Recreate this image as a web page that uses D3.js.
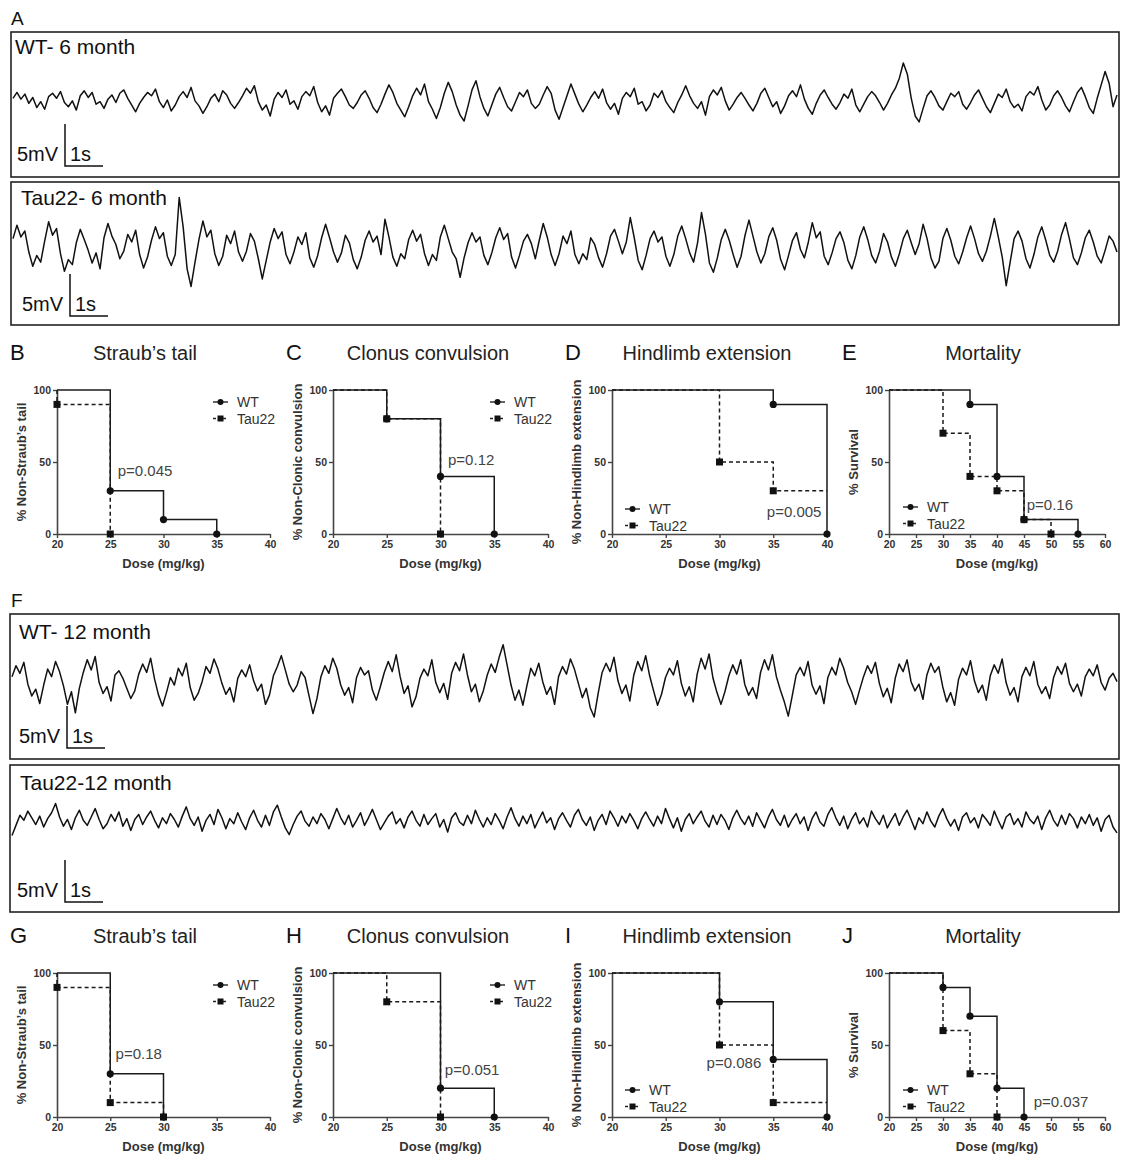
<!DOCTYPE html>
<html>
<head>
<meta charset="utf-8">
<script src="https://cdnjs.cloudflare.com/ajax/libs/d3/7.8.5/d3.min.js"></script>
<style>
body { margin: 0; background: #fff; }
svg { display: block; }
text { font-family: "Liberation Sans", Arial, sans-serif; }
</style>
</head>
<body>
<svg id="fig" width="1123" height="1155"></svg>
<script>
// EEG traces in mV, one value every ~4 px
var wt6 = [0.2,0.9,0.1,0.7,-0.4,0.3,-0.9,-0.2,-1.1,0.4,0.8,0.2,1.0,-0.3,-0.8,-0.1,-1.2,0.5,1.1,0.3,
  0.9,-0.5,-0.2,-1.0,0.1,0.6,-0.3,0.8,1.2,0.2,-0.6,-1.4,-0.4,0.3,0.9,0.5,1.3,-0.2,-0.9,0.0,
  -1.3,-0.6,0.4,1.0,0.3,1.5,-0.1,-0.7,-1.6,-0.8,0.2,0.7,-0.2,1.1,0.6,-0.4,-1.0,-0.3,0.5,1.4,
  0.8,1.7,-0.2,-1.2,-0.6,-1.9,0.1,0.9,0.3,1.2,-0.5,-0.1,-1.1,0.4,1.0,0.5,1.6,-0.3,-1.4,-0.7,
  -1.8,0.2,0.8,1.3,0.4,-0.6,-1.0,-0.3,0.6,1.1,0.2,-0.9,-1.5,-0.5,0.7,1.8,0.9,-0.4,-1.2,-2.0,
  -0.8,0.5,1.4,0.6,1.9,-0.2,-1.1,-2.2,-0.9,0.8,2.1,1.0,-0.6,-1.8,-2.5,-0.7,1.2,2.3,0.4,-1.0,
  -1.9,-0.6,0.7,1.5,0.3,-0.8,-1.3,-0.2,0.9,0.4,1.2,-0.4,-1.0,-0.5,0.6,1.6,0.8,-1.2,-2.3,-0.9,
  0.5,1.9,0.7,-0.5,-1.4,-0.6,0.3,1.0,0.2,1.3,-0.3,-1.1,-0.4,-1.7,0.2,0.9,0.4,1.4,-0.5,-0.2,
  -1.3,-0.6,0.8,0.3,1.1,-0.2,-0.9,-1.5,-0.3,0.6,1.7,0.5,-0.4,-1.0,-0.2,-1.8,0.4,1.2,0.6,1.5,
  -0.1,-1.2,-0.5,0.3,0.9,0.2,-0.6,-1.3,-0.4,0.8,1.4,0.3,-0.8,-0.2,-1.6,-0.7,0.5,1.1,0.4,1.8,
  0.1,-1.0,-1.7,-0.4,0.6,1.2,0.3,-0.5,-1.1,-0.3,0.7,0.2,1.3,-0.6,-1.4,-0.5,0.4,1.0,0.5,-0.3,
  -1.2,-0.4,0.6,1.4,2.6,4.4,3.1,0.2,-1.9,-2.6,-1.0,0.5,1.1,0.3,-0.7,-1.2,-0.2,0.8,0.4,1.0,
  -0.5,-1.1,-0.3,0.6,1.2,0.2,-0.8,-1.5,-0.4,0.7,0.3,1.3,-0.2,-0.9,-0.5,-1.3,0.4,1.0,0.6,1.6,
  0.0,-1.2,-0.6,0.5,1.1,0.3,-0.7,-1.4,-0.2,0.9,1.5,0.4,-0.9,-1.6,0.2,1.8,3.4,2.0,-0.8,0.6];

var tau6 = [1.0,2.6,1.2,1.9,-0.6,-2.3,-1.0,-1.8,0.7,3.0,1.4,2.2,-0.8,-2.9,-1.5,-2.1,0.5,2.1,0.9,-0.4,
  -1.9,-0.7,-2.6,1.1,2.8,1.3,0.3,-1.4,-0.5,1.5,0.6,2.0,-0.9,-2.5,-1.2,0.8,2.4,1.0,1.7,-1.1,
  -2.2,-0.9,5.9,2.4,-2.6,-4.7,-1.8,0.9,3.1,1.2,2.0,-0.8,-2.2,-1.1,1.4,0.4,1.9,-0.6,-1.7,-0.5,
  1.6,0.7,-1.4,-3.8,-1.6,0.6,2.2,1.0,1.8,-0.9,-2.0,-0.6,1.2,0.3,1.7,-1.3,-2.4,-1.0,1.1,2.7,
  1.1,-0.6,-1.8,-0.7,1.4,0.5,-1.5,-2.6,-1.2,0.8,1.9,0.6,1.3,-0.9,3.3,1.2,-1.2,-2.3,-0.8,-1.4,
  0.9,2.0,0.7,1.5,-0.8,-2.2,-0.9,-1.6,1.2,2.6,1.0,-0.6,-1.4,-3.6,-1.3,0.5,1.7,0.6,1.2,-1.0,
  -2.1,-0.7,1.1,2.3,0.9,1.6,-1.2,-2.5,-1.0,0.7,1.5,0.4,-1.4,0.8,2.8,1.2,-0.9,-2.2,-0.8,1.3,
  0.4,1.9,-0.9,-2.0,-0.8,-1.5,1.1,0.3,-1.3,-2.4,-0.8,1.3,2.1,0.7,-0.8,0.6,3.5,1.1,-1.6,-2.7,
  -1.0,1.0,1.9,0.6,1.2,-1.1,-2.3,-0.9,1.3,2.5,1.0,-0.7,-1.8,0.5,4.1,1.5,-1.9,-3.0,-1.3,0.9,
  2.1,0.8,-0.9,-2.4,-1.1,1.4,3.2,1.3,-0.6,-1.9,-0.8,1.2,2.3,0.8,-1.5,-2.7,-1.0,0.8,1.7,-0.3,
  -1.3,0.6,2.9,1.1,1.8,-1.1,-2.1,-0.7,1.0,1.8,0.5,-1.6,-2.6,-1.0,1.2,2.4,0.9,-1.0,-1.9,-0.5,
  1.6,0.6,-1.2,-2.3,-0.8,1.0,2.0,0.5,-0.9,0.4,2.7,1.0,-1.3,-2.5,-1.7,1.0,2.2,0.8,-1.1,-2.0,
  -0.6,1.1,2.5,1.0,-0.8,-1.7,-0.5,1.3,3.4,1.2,-1.2,-4.6,-1.8,1.0,1.9,0.7,-1.4,-2.5,-0.9,1.2,
  2.4,0.8,-1.0,-1.8,-0.5,1.5,2.9,0.9,-1.3,-2.1,-0.7,1.1,2.0,0.6,-1.1,-1.9,-0.4,1.3,0.7,-0.6];

var wt12 = [0.4,1.7,0.8,2.1,-0.5,-1.9,-1.1,-2.8,-0.6,1.3,0.4,2.2,1.0,-0.7,-2.9,-1.4,-3.9,-1.0,0.9,2.4,
  1.2,2.8,-0.3,-1.6,-0.8,-2.5,0.6,1.1,0.2,-1.0,-2.2,-1.3,0.7,1.9,0.9,2.6,0.1,-1.8,-3.1,-1.5,
  0.3,-0.6,1.4,0.5,2.0,-0.9,-2.4,-1.6,-0.2,1.6,0.8,2.5,1.3,-0.4,-1.7,-0.9,-2.6,0.2,1.2,0.4,
  1.8,-0.1,-1.3,-0.5,-2.9,-1.8,0.5,1.6,2.9,1.2,-0.5,-1.4,-0.6,1.0,0.3,-1.9,-4.0,-2.2,0.4,1.7,
  0.8,2.6,1.4,-0.6,-1.8,-0.9,-2.7,0.3,1.5,0.6,1.1,-1.2,-2.4,-0.8,0.9,2.2,1.0,3.0,0.4,-1.6,
  -0.7,-3.2,-2.0,0.2,1.3,0.5,2.4,-0.3,-1.5,-0.4,-2.3,0.8,2.1,1.1,3.1,0.6,-1.4,-0.5,-2.6,-1.3,
  0.6,1.9,0.9,2.7,4.2,1.8,-0.6,-2.4,-1.2,-3.0,-0.7,1.4,0.5,2.0,-0.2,-1.7,-0.8,-2.9,0.4,1.6,
  0.7,2.5,1.3,-0.4,-2.1,-1.0,-3.3,-4.4,-1.6,0.9,2.0,1.0,2.7,-0.1,-1.6,-0.6,-2.5,0.6,2.2,1.1,
  2.9,0.5,-1.3,-3.0,-1.7,0.3,1.4,0.6,2.3,-0.4,-1.9,-0.8,-2.6,0.7,2.6,1.3,3.1,0.2,-1.5,-2.9,
  -1.4,0.5,1.8,0.7,2.4,-0.5,-1.8,-0.9,-2.2,0.9,2.4,1.2,3.0,0.4,-1.2,-2.6,-4.3,-1.9,0.6,1.5,
  0.5,2.2,-0.6,-1.7,-0.7,-2.8,0.3,1.5,0.6,2.6,1.4,-0.3,-1.4,-2.9,-1.2,0.4,1.7,0.8,2.1,-0.4,
  -2.0,-1.0,-2.7,0.2,1.9,1.0,2.4,-0.2,-1.3,-0.5,-2.3,0.6,2.0,0.9,1.6,-0.8,-2.6,-1.5,-3.0,0.1,
  1.4,0.6,2.3,-0.1,-1.5,-0.6,-2.4,0.5,1.8,0.8,2.5,-0.3,-1.8,-0.9,-2.6,0.4,1.5,0.5,2.2,-0.5,
  -1.6,-0.8,-2.2,0.3,1.6,0.7,2.0,-0.4,-1.4,-0.5,-1.9,0.4,1.3,0.5,1.8,-0.3,-1.2,0.2,0.8,-0.2];

var tau12 = [-1.6,-0.4,0.8,0.2,1.3,0.5,-0.3,0.7,-0.6,0.4,1.1,2.2,0.6,-0.5,0.3,-0.9,0.5,1.4,0.2,-0.4,
  0.6,1.6,0.3,-0.8,-0.2,0.9,0.1,1.2,-0.5,0.4,-1.0,0.3,0.9,-0.3,0.6,1.3,0.2,-0.7,0.5,-0.2,
  1.0,0.3,-0.6,0.7,1.8,0.4,-0.4,0.6,-1.1,0.2,0.9,-0.3,1.5,0.5,-0.8,0.4,-0.2,1.1,0.0,-0.9,
  0.5,1.4,0.2,-0.6,0.8,-0.4,1.2,2.0,0.6,-0.7,-1.5,-0.3,0.7,1.3,0.1,-0.5,0.6,-0.2,1.0,0.3,
  -0.8,0.4,1.6,0.5,-0.3,0.8,-0.6,0.2,1.1,-0.4,0.5,1.5,0.3,-0.9,-0.1,0.7,1.2,-0.2,0.4,-0.7,
  0.6,1.3,0.2,-0.5,0.9,-0.3,0.4,1.0,-0.6,0.3,-1.2,0.5,1.1,0.0,-0.4,0.8,-0.2,1.4,0.3,-0.6,
  0.5,-0.3,1.0,0.2,-0.8,0.6,1.7,0.4,-0.5,0.7,-0.2,0.9,-0.7,0.3,1.2,-0.1,0.5,-0.9,0.4,1.1,
  0.2,-0.6,0.8,1.5,0.3,-0.4,0.6,-1.0,0.2,0.9,-0.3,1.3,0.5,-0.5,0.7,-0.1,1.0,0.2,-0.8,0.4,
  1.2,0.3,-0.5,0.7,-0.2,1.6,0.4,-0.7,0.5,-1.1,0.3,1.0,-0.2,0.6,1.3,0.1,-0.6,0.8,-0.3,0.9,
  0.2,-0.9,0.5,1.4,0.4,-0.3,0.7,-0.5,1.1,0.2,-0.7,0.6,1.5,0.3,-0.4,0.8,-0.6,0.3,1.0,-0.2,
  0.6,-1.0,0.4,1.2,0.0,-0.5,0.9,1.7,0.5,-0.4,0.7,-0.8,0.3,1.1,-0.2,0.5,-0.6,1.3,0.4,-0.3,
  0.8,-0.7,0.2,1.0,-0.4,0.6,1.4,0.3,-0.9,0.5,-0.2,1.2,0.1,-0.6,0.7,1.6,0.4,-0.5,0.3,-1.0,
  0.6,1.1,-0.1,0.5,-0.7,0.9,0.3,-0.4,1.3,0.2,-0.8,0.6,1.0,-0.3,0.4,-0.6,1.2,0.3,-0.2,0.7,
  -0.9,0.5,1.4,0.2,-0.5,0.8,-0.3,1.0,0.4,-0.7,0.6,-0.2,0.9,-0.4,0.5,-1.1,0.3,0.8,-0.6,-1.3];

// survival curves: dose (mg/kg) and % remaining after each step
var doseTicks = [20, 25, 30, 35, 40];
var doseTicksMort = [20, 25, 30, 35, 40, 45, 50, 55, 60];
var pctTicks = [0, 50, 100];

var straub6WtDose = [20, 25, 30, 35],       straub6WtPct = [100, 30, 10, 0];
var straub6TauDose = [20, 20, 25],          straub6TauPct = [100, 90, 0];
var clonus6WtDose = [20, 25, 30, 35],       clonus6WtPct = [100, 80, 40, 0];
var clonus6TauDose = [20, 25, 30],          clonus6TauPct = [100, 80, 0];
var hind6WtDose = [20, 35, 40],             hind6WtPct = [100, 90, 0];
var hind6TauDose = [20, 30, 35, 40],        hind6TauPct = [100, 50, 30, 30];
var mort6WtDose = [20, 35, 40, 45, 55],     mort6WtPct = [100, 90, 40, 10, 0];
var mort6TauDose = [20, 30, 35, 40, 45, 50], mort6TauPct = [100, 70, 40, 30, 10, 0];

var straub12WtDose = [20, 25, 30],          straub12WtPct = [100, 30, 0];
var straub12TauDose = [20, 20, 25, 30],     straub12TauPct = [100, 90, 10, 0];
var clonus12WtDose = [20, 30, 35],          clonus12WtPct = [100, 20, 0];
var clonus12TauDose = [20, 25, 30],         clonus12TauPct = [100, 80, 0];
var hind12WtDose = [20, 30, 35, 40],        hind12WtPct = [100, 80, 40, 0];
var hind12TauDose = [20, 30, 35, 40],       hind12TauPct = [100, 50, 10, 10];
var mort12WtDose = [20, 30, 35, 40, 45],    mort12WtPct = [100, 90, 70, 20, 0];
var mort12TauDose = [20, 30, 35, 40],       mort12TauPct = [100, 60, 30, 0];

var svg = d3.select("#fig");

// ---------- EEG boxes ----------
function eegBox(o) {
  var g = svg.append("g");
  g.append("rect").attr("x", o.x0).attr("y", o.y0)
    .attr("width", o.x1 - o.x0).attr("height", o.y1 - o.y0)
    .attr("fill", "none").attr("stroke", "#222").attr("stroke-width", 1.6);
  g.append("text").attr("x", o.tx).attr("y", o.ty).attr("font-size", 21).attr("fill", "#111").text(o.title);

  var x = d3.scaleLinear().domain([0, o.data.length - 1]).range([o.x0 + 2, o.x1 - 2]);
  var y = d3.scaleLinear().domain([-6, 6]).range([o.mid + 50.4, o.mid - 50.4]);
  g.append("path").datum(o.data)
    .attr("d", d3.line().x(function (d, i) { return x(i); }).y(function (d) { return y(d); }))
    .attr("fill", "none").attr("stroke", "#111").attr("stroke-width", 1.5).attr("stroke-linejoin", "round");

  // 5 mV / 1 s scale bar
  var barH = y(0) - y(5);
  g.append("path")
    .attr("d", "M" + o.bx + "," + (o.by - barH) + "V" + o.by + "H" + (o.bx + 38))
    .attr("fill", "none").attr("stroke", "#111").attr("stroke-width", 1.5);
  g.append("text").attr("x", o.bx - 48).attr("y", o.by - 5).attr("font-size", 20).attr("fill", "#111").text("5mV");
  g.append("text").attr("x", o.bx + 5).attr("y", o.by - 5).attr("font-size", 20).attr("fill", "#111").text("1s");
}

svg.append("text").attr("x", 11).attr("y", 25).attr("font-size", 19).attr("fill", "#111").text("A");
svg.append("text").attr("x", 11).attr("y", 607).attr("font-size", 19).attr("fill", "#111").text("F");

eegBox({ x0: 11, x1: 1119, y0: 32, y1: 177, mid: 100, data: wt6, title: "WT- 6 month", tx: 15, ty: 54, bx: 65, by: 166 });
eegBox({ x0: 11, x1: 1119, y0: 182, y1: 325, mid: 247, data: tau6, title: "Tau22- 6 month", tx: 21, ty: 205, bx: 70, by: 316 });
eegBox({ x0: 10, x1: 1119, y0: 614, y1: 759, mid: 680, data: wt12, title: "WT- 12 month", tx: 19, ty: 639, bx: 67, by: 748 });
eegBox({ x0: 10, x1: 1119, y0: 765, y1: 912, mid: 822, data: tau12, title: "Tau22-12 month", tx: 20, ty: 790, bx: 65, by: 902 });

// ---------- survival panels ----------
function survPanel(o) {
  var g = svg.append("g");
  var x = d3.scaleLinear().domain([20, o.ticks[o.ticks.length - 1]]).range([o.x0, o.x1]);
  var y = d3.scaleLinear().domain([0, 100]).range([o.yb, o.yt]);

  g.append("text").attr("x", o.x0 - 47).attr("y", o.yt - 30).attr("font-size", 22).attr("fill", "#111").text(o.letter);
  g.append("text").attr("x", o.tcx).attr("y", o.yt - 30).attr("text-anchor", "middle")
    .attr("font-size", 20).attr("fill", "#222").text(o.title);

  var xa = g.append("g").attr("transform", "translate(0," + o.yb + ")")
    .call(d3.axisBottom(x).tickValues(o.ticks).tickSize(4).tickSizeOuter(0).tickPadding(3));
  var ya = g.append("g").attr("transform", "translate(" + o.x0 + ",0)")
    .call(d3.axisLeft(y).tickValues(pctTicks).tickSize(4).tickSizeOuter(0).tickPadding(2));
  [xa, ya].forEach(function (a) {
    a.select(".domain").attr("stroke", "#444").attr("stroke-width", 1.6);
    a.selectAll(".tick line").attr("stroke", "#444").attr("stroke-width", 1.4);
    a.selectAll(".tick text").attr("font-size", 10.5).attr("font-weight", "bold").attr("fill", "#333")
      .attr("font-family", "Liberation Sans, Arial, sans-serif");
  });

  g.append("text").attr("x", (o.x0 + o.x1) / 2).attr("y", o.yb + 34).attr("text-anchor", "middle")
    .attr("font-size", 13).attr("font-weight", "bold").attr("fill", "#333").text("Dose (mg/kg)");
  g.append("text").attr("transform", "translate(" + (o.x0 - 31) + "," + ((o.yt + o.yb) / 2) + ") rotate(-90)")
    .attr("text-anchor", "middle").attr("font-size", 13).attr("font-weight", "bold").attr("fill", "#333").text(o.ylab);

  var line = d3.line().x(function (d) { return x(d[0]); }).y(function (d) { return y(d[1]); }).curve(d3.curveStepAfter);
  var series = [
    { pts: d3.zip(o.tauDose, o.tauPct), dash: "4,3", shape: "square" },
    { pts: d3.zip(o.wtDose, o.wtPct), dash: null, shape: "circle" }
  ];
  series.forEach(function (s) {
    g.append("path").datum(s.pts).attr("d", line)
      .attr("fill", "none").attr("stroke", "#1a1a1a").attr("stroke-width", 1.5)
      .attr("stroke-dasharray", s.dash);
  });
  series.forEach(function (s) {
    var ev = s.pts.filter(function (d, i) { return i > 0 && d[1] !== s.pts[i - 1][1]; });
    if (s.shape === "circle") {
      g.selectAll(null).data(ev).enter().append("circle")
        .attr("cx", function (d) { return x(d[0]); }).attr("cy", function (d) { return y(d[1]); })
        .attr("r", 3.6).attr("fill", "#111");
    } else {
      g.selectAll(null).data(ev).enter().append("rect")
        .attr("x", function (d) { return x(d[0]) - 3.5; }).attr("y", function (d) { return y(d[1]) - 3.5; })
        .attr("width", 7).attr("height", 7).attr("fill", "#111");
    }
  });

  // legend
  var lx = o.lx, ly = o.ly;
  [["WT", null, "circle"], ["Tau22", "3,2", "square"]].forEach(function (L, i) {
    var yy = ly + i * 16.5;
    g.append("line").attr("x1", lx).attr("x2", lx + 15).attr("y1", yy).attr("y2", yy)
      .attr("stroke", "#222").attr("stroke-width", 1.4).attr("stroke-dasharray", L[1]);
    if (L[2] === "circle") g.append("circle").attr("cx", lx + 7.5).attr("cy", yy).attr("r", 3).attr("fill", "#111");
    else g.append("rect").attr("x", lx + 4.5).attr("y", yy - 3).attr("width", 6).attr("height", 6).attr("fill", "#111");
    g.append("text").attr("x", lx + 24).attr("y", yy + 5).attr("font-size", 14).attr("fill", "#333").text(L[0]);
  });

  g.append("text").attr("x", x(o.px)).attr("y", y(o.py)).attr("font-size", 15).attr("fill", "#444").text(o.p);
}

var rowTop = { yt: 390, yb: 534 }, rowBot = { yt: 973, yb: 1117 };

survPanel({ letter: "B", title: "Straub\u2019s tail", ylab: "% Non-Straub\u2019s tail", x0: 57, x1: 270, tcx: 145, yt: rowTop.yt, yb: rowTop.yb,
  ticks: doseTicks, wtDose: straub6WtDose, wtPct: straub6WtPct, tauDose: straub6TauDose, tauPct: straub6TauPct,
  lx: 213, ly: 402, p: "p=0.045", px: 25.7, py: 40 });
survPanel({ letter: "C", title: "Clonus convulsion", ylab: "% Non-Clonic convulsion", x0: 333, x1: 548, tcx: 428, yt: rowTop.yt, yb: rowTop.yb,
  ticks: doseTicks, wtDose: clonus6WtDose, wtPct: clonus6WtPct, tauDose: clonus6TauDose, tauPct: clonus6TauPct,
  lx: 490, ly: 402, p: "p=0.12", px: 30.7, py: 48 });
survPanel({ letter: "D", title: "Hindlimb extension", ylab: "% Non-Hindlimb extension", x0: 612, x1: 827, tcx: 707, yt: rowTop.yt, yb: rowTop.yb,
  ticks: doseTicks, wtDose: hind6WtDose, wtPct: hind6WtPct, tauDose: hind6TauDose, tauPct: hind6TauPct,
  lx: 625, ly: 509, p: "p=0.005", px: 34.4, py: 12 });
survPanel({ letter: "E", title: "Mortality", ylab: "% Survival", x0: 889, x1: 1105, tcx: 983, yt: rowTop.yt, yb: rowTop.yb,
  ticks: doseTicksMort, wtDose: mort6WtDose, wtPct: mort6WtPct, tauDose: mort6TauDose, tauPct: mort6TauPct,
  lx: 903, ly: 507, p: "p=0.16", px: 45.5, py: 17 });

survPanel({ letter: "G", title: "Straub\u2019s tail", ylab: "% Non-Straub\u2019s tail", x0: 57, x1: 270, tcx: 145, yt: rowBot.yt, yb: rowBot.yb,
  ticks: doseTicks, wtDose: straub12WtDose, wtPct: straub12WtPct, tauDose: straub12TauDose, tauPct: straub12TauPct,
  lx: 213, ly: 985, p: "p=0.18", px: 25.5, py: 40 });
survPanel({ letter: "H", title: "Clonus convulsion", ylab: "% Non-Clonic convulsion", x0: 333, x1: 548, tcx: 428, yt: rowBot.yt, yb: rowBot.yb,
  ticks: doseTicks, wtDose: clonus12WtDose, wtPct: clonus12WtPct, tauDose: clonus12TauDose, tauPct: clonus12TauPct,
  lx: 490, ly: 985, p: "p=0.051", px: 30.4, py: 29 });
survPanel({ letter: "I", title: "Hindlimb extension", ylab: "% Non-Hindlimb extension", x0: 612, x1: 827, tcx: 707, yt: rowBot.yt, yb: rowBot.yb,
  ticks: doseTicks, wtDose: hind12WtDose, wtPct: hind12WtPct, tauDose: hind12TauDose, tauPct: hind12TauPct,
  lx: 625, ly: 1090, p: "p=0.086", px: 28.8, py: 34 });
survPanel({ letter: "J", title: "Mortality", ylab: "% Survival", x0: 889, x1: 1105, tcx: 983, yt: rowBot.yt, yb: rowBot.yb,
  ticks: doseTicksMort, wtDose: mort12WtDose, wtPct: mort12WtPct, tauDose: mort12TauDose, tauPct: mort12TauPct,
  lx: 903, ly: 1090, p: "p=0.037", px: 46.8, py: 7 });
</script>
</body>
</html>
